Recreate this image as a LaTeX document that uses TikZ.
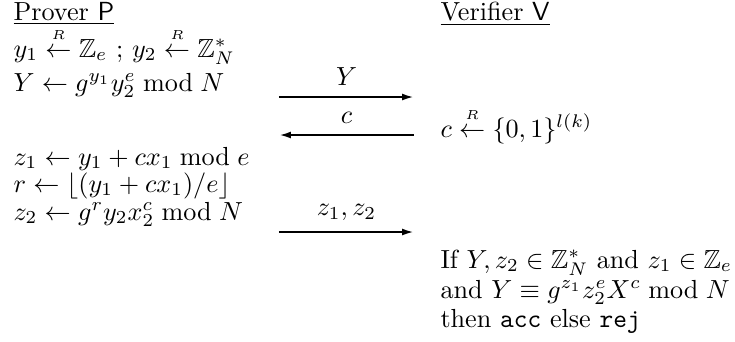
\documentclass[tikz,border=0pt]{standalone}
\usepackage{amssymb}
\usetikzlibrary{arrows.meta}
\newcommand{\rndfrom}{\stackrel{\raisebox{0.9pt}{$\scriptscriptstyle R$}}{\leftarrow}}
\begin{document}
\begin{tikzpicture}[x=0.3823pt,y=-0.3823pt,
  txt/.style={anchor=base west,inner sep=0pt},
  lbl/.style={anchor=base,inner sep=0pt},
  msg/.style={line width=0.8pt,-{Latex[length=4.5pt,width=2.6pt]}}]
\useasboundingbox (0,0) rectangle (735,341);
% prover column
\node[txt] (ph) at (13,20) {\underline{Prover $\mathsf{P}$}};
\node[txt] (p1) at (13,57) {$y_1 \rndfrom \mathbb{Z}_e$ ; $y_2 \rndfrom \mathbb{Z}_N^*$};
\node[txt] (p2) at (13,91) {$Y \leftarrow g^{y_1}y_2^e \bmod N$};
\node[txt] (p3) at (13,165) {$z_1 \leftarrow y_1 + cx_1 \bmod e$};
\node[txt] (p4) at (13,192) {$r \leftarrow \lfloor (y_1+cx_1)/e \rfloor$};
\node[txt] (p5) at (13,220) {$z_2 \leftarrow g^r y_2 x_2^c \bmod N$};
% verifier column
\node[txt] (vh) at (440,20) {\underline{Verifier $\mathsf{V}$}};
\node[txt] (v1) at (440,137) {$c \rndfrom \{0,1\}^{l(k)}$};
\node[txt] (v2) at (440,268) {If $Y, z_2 \in \mathbb{Z}_N^*$ and $z_1 \in \mathbb{Z}_e$};
\node[txt] (v3) at (440,298) {and $Y \equiv g^{z_1} z_2^e X^c \bmod N$};
\node[txt] (v4) at (440,327) {then \texttt{acc} else \texttt{rej}};
% messages
\coordinate (a1l) at (279,97);  \coordinate (a1r) at (414,97);
\coordinate (a2l) at (279,135); \coordinate (a2r) at (414,135);
\coordinate (a3l) at (279,232); \coordinate (a3r) at (414,232);
\draw[msg] (a1l) -- (a1r) node[lbl,midway,above=4pt] (m1) {$Y$};
\draw[msg] (a2r) -- (a2l) node[lbl,midway,above=4pt] (m2) {$c$};
\draw[msg] (a3l) -- (a3r) node[lbl,midway,above=4pt] (m3) {$z_1, z_2$};
\end{tikzpicture}
\end{document}
